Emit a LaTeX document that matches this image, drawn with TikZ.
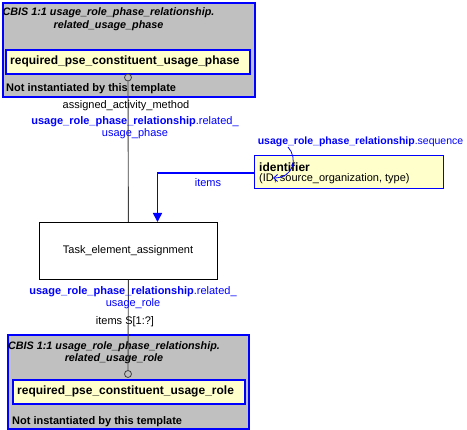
\documentclass[tikz,border=0pt]{standalone}
\usepackage{fontspec}
\setmainfont{Liberation Sans}
\usetikzlibrary{arrows.meta}
\definecolor{bblue}{RGB}{0,0,255}
\definecolor{ggrey}{RGB}{192,192,192}
\definecolor{yfill}{RGB}{255,255,204}
\definecolor{lgrey}{RGB}{64,64,64}
\tikzset{
  greybox/.style={draw=bblue, line width=1.6pt, fill=ggrey, anchor=north west, inner sep=0pt},
  yelbox/.style={draw=bblue, line width=1.6pt, fill=yfill, anchor=north west, inner sep=0pt},
  taskbox/.style={draw=black, line width=0.8pt, fill=white, anchor=north west, inner sep=0pt},
  lbl/.style={inner sep=0pt, font=\fontsize{11}{12}\selectfont},
  bluelbl/.style={lbl, text=bblue},
  endcirc/.style={circle, draw=lgrey, line width=0.8pt, fill=ggrey, minimum size=7pt, inner sep=0pt},
  vline/.style={draw=lgrey, line width=0.9pt},
  itemsline/.style={draw=bblue, line width=1.6pt, -{Triangle[length=9pt,width=9pt]}},
  seqline/.style={draw=bblue, line width=0.8pt, -{Straight Barb[length=4pt,width=7pt]}}
}
\begin{document}
\begin{tikzpicture}[x=1pt,y=-1pt]
\useasboundingbox (0,0) rectangle (467,430);
% top grey box
\node[greybox, minimum width=252pt, minimum height=94pt] (topgrey) at (2,2) {};
\node[lbl, align=center, font=\fontsize{10.8}{13}\selectfont\bfseries\itshape] (toptitle) at (108.5,19.5) {CBIS 1:1 usage\_role\_phase\_relationship.\\related\_usage\_phase};
\node[yelbox, minimum width=244pt, minimum height=24pt] (topyel) at (5,49) {};
\node[lbl, anchor=west, font=\fontsize{12}{13}\selectfont\bfseries] (topyeltxt) at (10,61.5) {required\_pse\_constituent\_usage\_phase};
\node[lbl, anchor=west, font=\fontsize{11}{12}\selectfont\bfseries] (topnot) at (6,89) {Not instantiated by this template};
% bottom grey box
\node[greybox, minimum width=241pt, minimum height=94pt] (botgrey) at (7,334) {};
\node[lbl, align=center, font=\fontsize{10.8}{12}\selectfont\bfseries\itshape] (bottitle) at (114,352.5) {CBIS 1:1 usage\_role\_phase\_relationship.\\related\_usage\_role};
\node[yelbox, minimum width=232pt, minimum height=24pt] (botyel) at (12,379) {};
\node[lbl, anchor=west, font=\fontsize{12}{13}\selectfont\bfseries] (botyeltxt) at (17,391) {required\_pse\_constituent\_usage\_role};
\node[lbl, anchor=west, font=\fontsize{11}{12}\selectfont\bfseries] (botnot) at (12,422) {Not instantiated by this template};
% task box
\node[taskbox, minimum width=178pt, minimum height=57pt] (task) at (39,222) {};
\node[lbl] (tasktxt) at (128,250.5) {Task\_element\_assignment};
% identifier box
\node[draw=bblue, line width=1.2pt, fill=yfill, anchor=north west, inner sep=0pt, minimum width=189pt, minimum height=33pt] (ident) at (254,155) {};
\node[lbl, anchor=west, font=\fontsize{12}{13}\selectfont\bfseries] (identtxt) at (259,167.5) {identifier};
\node[lbl, anchor=west] (identattr) at (259,179) {(ID, source\_organization, type)};
% circles
\node[endcirc] (topcirc) at (128,77.5) {};
\node[endcirc] (botcirc) at (128,374) {};
% vertical connectors
\draw[vline] (topcirc.south) -- (task.north);
\draw[vline] (task.south) -- (botcirc.north);
% labels on vertical connector
\node[lbl] (aam) at (126,106) {assigned\_activity\_method};
\node[bluelbl, align=center] (relphase) at (135,127.5) {\textbf{usage\_role\_phase\_relationship}.related\_\\usage\_phase};
\node[bluelbl, align=center] (relrole) at (133,298) {\textbf{usage\_role\_phase\_relationship}.related\_\\usage\_role};
\node[lbl] (itemsS) at (125,322) {items S[1:?]};
% items connector
\coordinate (itemsend) at (157.5,222);
\draw[itemsline] (ident.west |- 0,173) -| (itemsend);
\node[bluelbl] (itemslbl) at (208,183) {items};
% sequence label and curve
\node[bluelbl, font=\fontsize{10.5}{12}\selectfont] (seqlbl) at (360.5,142) {\textbf{usage\_role\_phase\_relationship}.sequence};
\coordinate (seqstart) at (288,147);
\coordinate (seqend) at (273,178);
\draw[seqline] (seqstart) .. controls (298,158) and (294,178) .. (seqend);
\end{tikzpicture}
\end{document}
